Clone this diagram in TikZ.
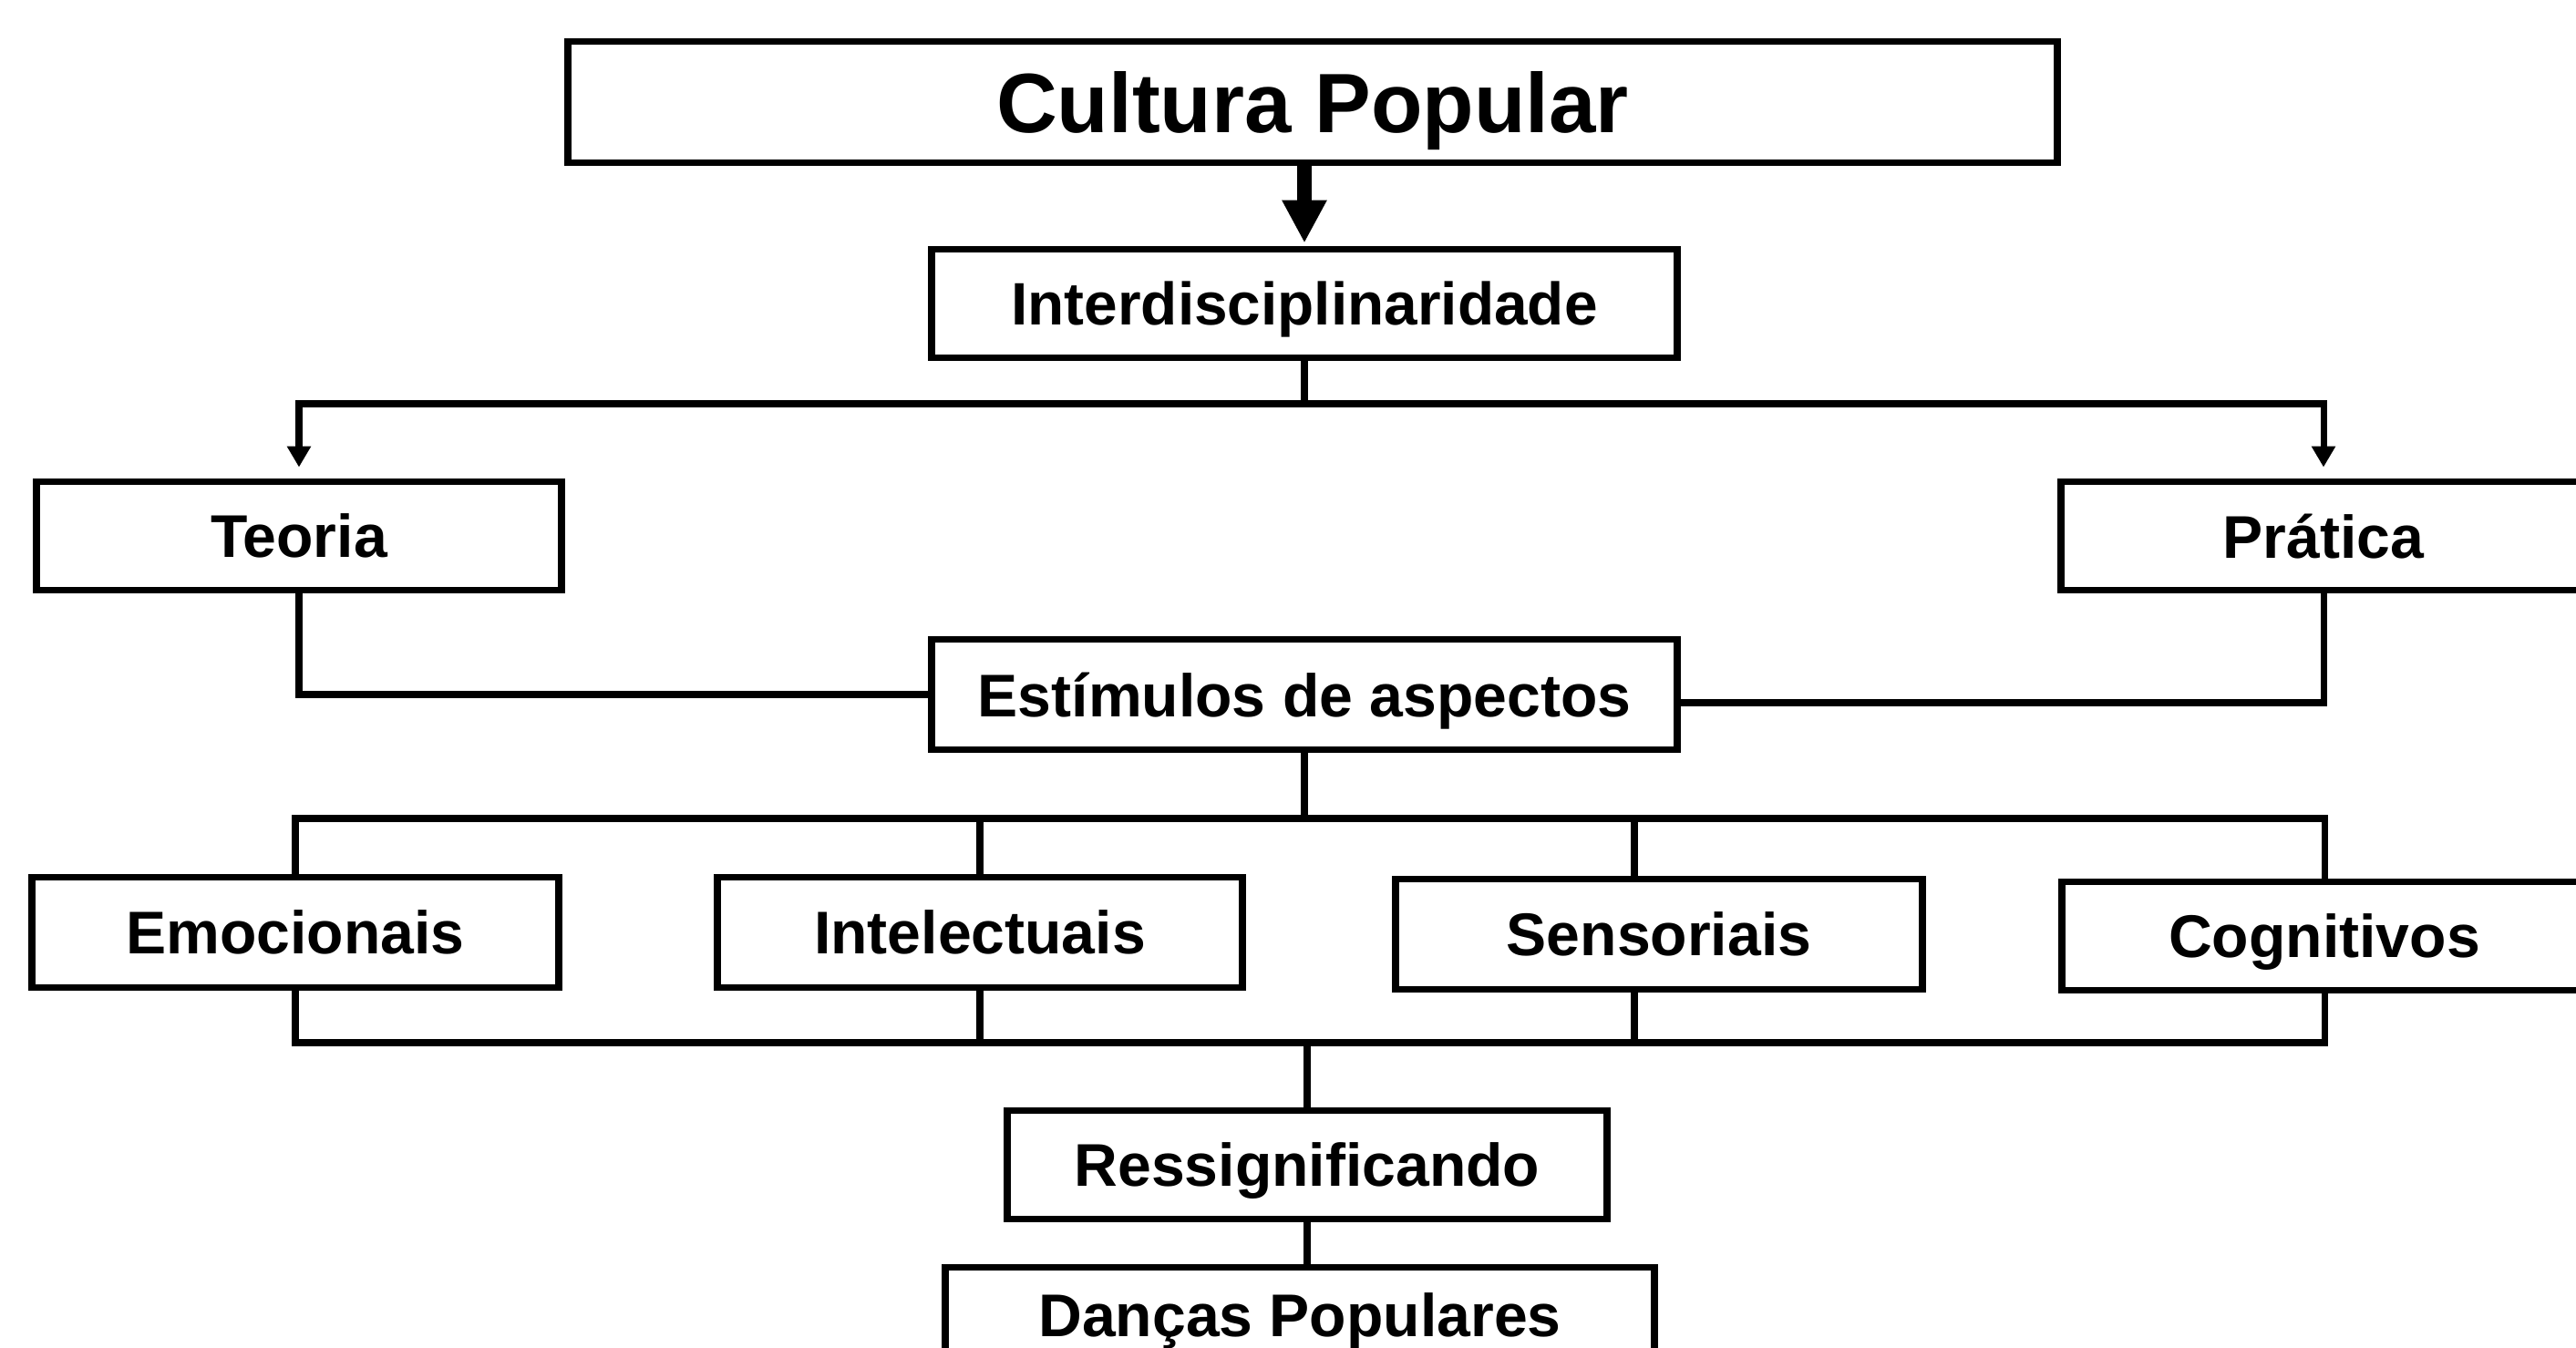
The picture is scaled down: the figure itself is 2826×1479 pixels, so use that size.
\documentclass[tikz,border=0pt]{standalone}
\usepackage{fontspec}
\setmainfont{Liberation Sans}
\usetikzlibrary{arrows.meta, positioning}

\begin{document}
\begin{tikzpicture}[x=0.01cm, y=-0.01cm,
  caixa/.style={draw, line width=2.2pt, inner sep=0pt, text depth=0pt, minimum height=1.19cm, font=\bfseries\fontsize{18.8}{22}\selectfont},
  liga/.style={line width=2pt},
  seta/.style={liga, -{Triangle[length=0.23cm,width=0.25cm]}, shorten >=0.12cm},
  setagrande/.style={line width=4.3pt, -{Triangle[length=0.47cm,width=0.46cm]}, shorten >=0.03cm}]
\useasboundingbox (0,0) rectangle (2826,1479);

\node[caixa, minimum width=16.33cm, minimum height=1.33cm, font=\bfseries\fontsize{26.3}{30}\selectfont] (cultura) at (1440,112) {Cultura Popular};
\node[caixa, minimum width=8.18cm, font=\bfseries\fontsize{18.7}{22}\selectfont] (inter) at (1431,333) {Interdisciplinaridade};
\node[caixa, minimum width=5.76cm] (teoria) at (328,588) {Teoria};
\node[caixa, minimum width=5.76cm] (pratica) at (2549,588) {Prática};
\node[caixa, minimum width=8.18cm, minimum height=1.21cm] (estimulos) at (1431,762) {Estímulos de aspectos};
\node[caixa, minimum width=5.77cm, minimum height=1.21cm] (emocionais) at (324,1023) {Emocionais};
\node[caixa, minimum width=5.75cm, minimum height=1.21cm] (intelectuais) at (1075,1023) {Intelectuais};
\node[caixa, minimum width=5.77cm, minimum height=1.21cm] (sensoriais) at (1820,1025) {Sensoriais};
\node[caixa, minimum width=5.76cm] (cognitivos) at (2550,1027) {Cognitivos};
\node[caixa, minimum width=6.58cm] (ressig) at (1434,1278) {Ressignificando};
\node[caixa, minimum width=7.77cm, text depth=0.14cm] (dancas) at (1426,1450) {Danças Populares};

\draw[setagrande] (inter.north |- cultura.south) -- (inter.north);

\coordinate (ramo) at (1431,443);
\draw[liga] (inter.south) -- (ramo);
\draw[seta] (ramo) -| (teoria.north);
\draw[seta] (ramo) -| (pratica.north);

\draw[liga] (teoria.south) |- (estimulos.west);
\draw[liga] (pratica.south) |- ([yshift=-0.09cm]estimulos.east);

\coordinate (topo) at (1431,898);
\draw[liga] (estimulos.south) -- (topo);
\draw[liga] (emocionais.north) |- (topo) -| (cognitivos.north);
\draw[liga] (intelectuais.north) -- (intelectuais.north |- topo);
\draw[liga] ([xshift=-0.27cm]sensoriais.north) -- ([xshift=-0.27cm]sensoriais.north |- topo);

\coordinate (base) at (1431,1144);
\draw[liga] (emocionais.south) |- (base) -| (cognitivos.south);
\draw[liga] (intelectuais.south) -- (intelectuais.south |- base);
\draw[liga] ([xshift=-0.27cm]sensoriais.south) -- ([xshift=-0.27cm]sensoriais.south |- base);
\draw[liga] (ressig.north |- base) -- (ressig.north);
\draw[liga] (ressig.south) -- (ressig.south |- dancas.north);
\end{tikzpicture}
\end{document}
